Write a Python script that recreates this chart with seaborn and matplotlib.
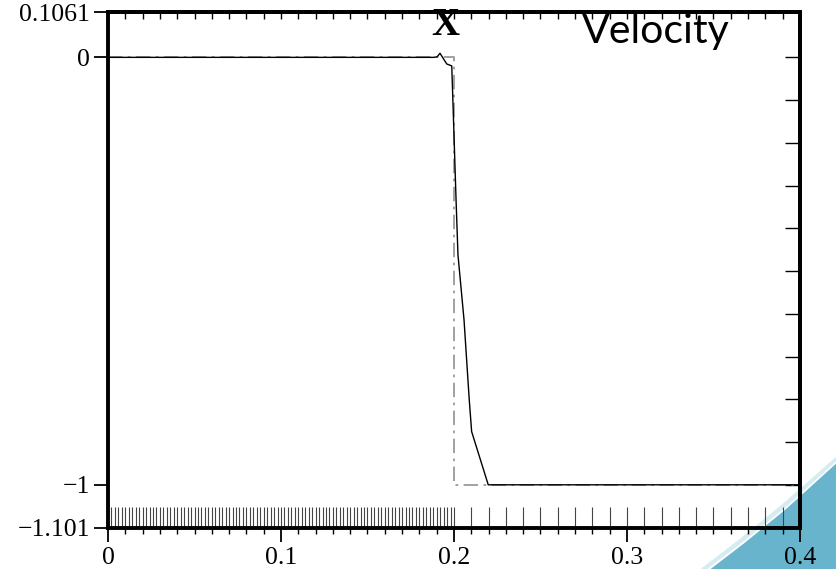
import numpy as np
import pandas as pd
import seaborn as sns
from matplotlib import pyplot as plt
from matplotlib.patches import Polygon
from matplotlib.ticker import FixedLocator, MultipleLocator

# numerical velocity profile
x_num = [0.0, 0.188, 0.1902, 0.1919, 0.1958, 0.1987, 0.1992, 0.2012, 0.2023, 0.2058, 0.2088, 0.2102, 0.2198, 0.4]
u_num = [0.0, 0.0, 0.001, 0.0096, -0.0154, -0.020, -0.08, -0.334, -0.462, -0.614, -0.80, -0.8755, -1.0, -1.0]

# exact solution
x_exact = [0.0, 0.2, 0.2, 0.4]
u_exact = [0.0, 0.0, -1.0, -1.0]

# grid: fine cells up to 0.2, coarse after
mesh_fine = np.linspace(0.0, 0.2, 101)
mesh_coarse = np.linspace(0.21, 0.39, 19)

xtick_vals = [0, 0.1, 0.2, 0.3, 0.4]
xtick_labels = ["0", "0.1", "0.2", "0.3", "0.4"]
ytick_vals = [0.1061, 0, -1, -1.101]
ytick_labels = ["0.1061", "0", "\u22121", "\u22121.101"]

sns.set_style("ticks")
plt.rcParams["font.family"] = ["Liberation Serif", "DejaVu Serif"]

fig = plt.figure(figsize=(8.36, 5.69), dpi=100)

# decorative slide swoosh in the corner
fig.patches.append(Polygon([[0.85, 0.0], [0.89, 0.045], [0.94, 0.105], [1.0, 0.185], [1.0, 0.0]],
                           closed=True, transform=fig.transFigure, facecolor="#67b4cc",
                           edgecolor="none", zorder=0))
fig.patches.append(Polygon([[0.838, 0.0], [0.885, 0.053], [0.935, 0.113], [1.0, 0.197], [1.0, 0.189],
                            [0.94, 0.109], [0.89, 0.049], [0.846, 0.0]],
                           closed=True, transform=fig.transFigure, facecolor="#d6ecf3",
                           edgecolor="none", zorder=0))

ax = fig.add_axes([0.1292, 0.0721, 0.8277, 0.9068])
ax.set_facecolor("none")
ax.set_zorder(1)

df_num = pd.DataFrame({"x": x_num, "u": u_num})
df_exact = pd.DataFrame({"x": x_exact, "u": u_exact})

sns.lineplot(data=df_exact, x="x", y="u", ax=ax, color="#9a9a9a", lw=1.3,
             linestyle=(0, (8, 3, 1.5, 3)), sort=False, estimator=None)
sns.lineplot(data=df_num, x="x", y="u", ax=ax, color="black", lw=1.0,
             sort=False, estimator=None)

ax.vlines(mesh_fine, -1.101, -1.0517, color="#444444", lw=0.8)
ax.vlines(mesh_coarse, -1.101, -1.0517, color="#444444", lw=0.8)

ax.set_xlim(0, 0.4)
ax.set_ylim(-1.101, 0.1061)
ax.set_xlabel("")
ax.set_ylabel("")

for s in ax.spines.values():
    s.set_linewidth(2.8)
    s.set_color("black")
    s.set_visible(True)

# bottom / left ticks outward
ax.set_xticks(xtick_vals)
ax.set_xticklabels(xtick_labels)
ax.xaxis.set_minor_locator(MultipleLocator(0.01))
ax.tick_params(axis="x", which="major", direction="out", length=10, width=1.3,
               labelsize=18.5, pad=4, top=False, color="black", labelcolor="black")
ax.tick_params(axis="x", which="minor", direction="out", length=4, width=1.0, top=False,
               color="black")
ax.set_yticks(ytick_vals)
ax.set_yticklabels(ytick_labels)
ax.tick_params(axis="y", which="major", direction="out", length=10, width=1.3,
               labelsize=18.5, pad=3, right=False, color="black", labelcolor="black")

# top / right ticks inward
top = ax.secondary_xaxis("top")
top.xaxis.set_major_locator(MultipleLocator(0.01))
top.tick_params(direction="in", length=5, width=1.0, labeltop=False, color="black")
top.spines["top"].set_linewidth(2.8)
top.spines["top"].set_color("black")
right = ax.secondary_yaxis("right")
right.yaxis.set_major_locator(FixedLocator([0, -0.1, -0.2, -0.3, -0.4, -0.5, -0.6, -0.7, -0.8, -0.9, -1.0]))
right.tick_params(direction="in", length=11, width=1.0, labelright=False, color="black")
right.spines["right"].set_linewidth(2.8)
right.spines["right"].set_color("black")

fig.text(0.533, 0.956, "X", ha="center", va="center", fontsize=28, fontweight="bold",
         color="black", family=["Liberation Serif", "DejaVu Serif"])
fig.text(0.784, 0.944, "Velocity", ha="center", va="center", fontsize=29.5,
         color="black", family=["Lato", "DejaVu Sans"])

fig.savefig("out.png", dpi=100)
